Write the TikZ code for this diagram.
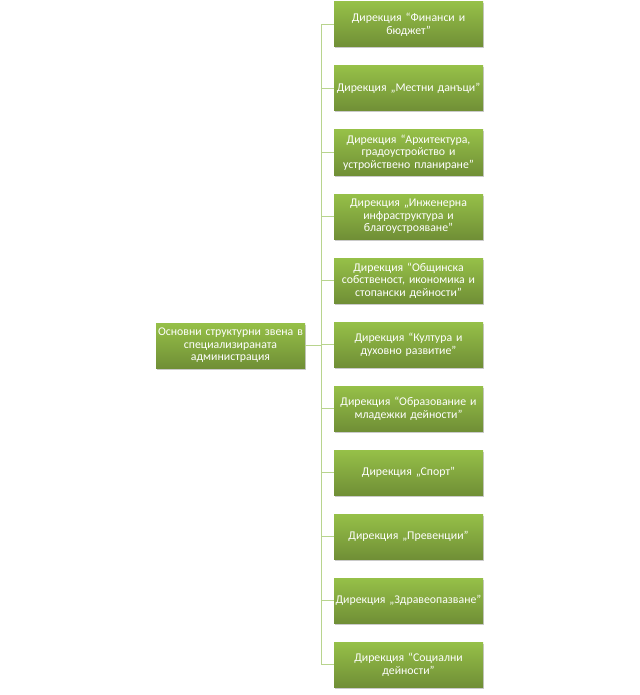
\documentclass[tikz,border=0pt]{standalone}
\usepackage{fontspec}
\setmainfont{Carlito}
\usetikzlibrary{shadows}
\definecolor{gtop}{RGB}{150,192,72}
\definecolor{gbot}{RGB}{112,143,54}
\definecolor{lnc}{RGB}{184,212,142}
\newcommand{\fl}[1]{\makebox[149pt][c]{#1}}
\tikzset{
  x=1pt,y=1pt,
  gbox/.style={rectangle, minimum width=149pt, minimum height=45pt, inner xsep=0pt, inner ysep=1pt,
    top color=gtop, bottom color=gbot, draw=none, text=white,
    align=center, text width=149pt,
    font=\fontsize{11.8}{12.5}\selectfont,
    drop shadow={shadow xshift=1.2pt, shadow yshift=-1.5pt, opacity=0.35, fill=black!60}},
  conn/.style={draw=lnc, line width=1pt}
}
\begin{document}
\begin{tikzpicture}
\useasboundingbox (0,0) rectangle (639,-695);
\node[gbox] (r) at (230.5,-345.5) {\fl{Основни структурни звена в}\\специализираната\\администрация};
\node[gbox] (b1) at (408.5,-24.5) {Дирекция “Финанси и\\бюджет”};
\node[gbox] (b2) at (408.5,-88.5) {\fl{Дирекция „Местни данъци”}};
\node[gbox] (b3) at (408.5,-152.5) {Дирекция “Архитектура,\\градоустройство и\\\fl{устройствено планиране”}};
\node[gbox] (b4) at (408.5,-216.5) {Дирекция „Инженерна\\инфраструктура и\\благоустрояване”};
\node[gbox] (b5) at (408.5,-280.5) {Дирекция “Общинска\\\fl{собственост, икономика и}\\стопански дейности”};
\node[gbox] (b6) at (408.5,-344.5) {Дирекция “Култура и\\духовно развитие”};
\node[gbox] (b7) at (408.5,-408.5) {\fl{Дирекция “Образование и}\\младежки дейности”};
\node[gbox] (b8) at (408.5,-472.5) {Дирекция „Спорт”};
\node[gbox] (b9) at (408.5,-536.5) {Дирекция „Превенции”};
\node[gbox] (b10) at (408.5,-600.5) {\fl{Дирекция „Здравеопазване”}};
\node[gbox] (b11) at (408.5,-664.5) {Дирекция “Социални\\дейности”};
\coordinate (j) at (321,-345.5);
\draw[conn] (r.east) -- (j);
\foreach \i in {1,...,11}{
  \draw[conn] (j) |- (b\i.west);
}
\end{tikzpicture}
\end{document}
